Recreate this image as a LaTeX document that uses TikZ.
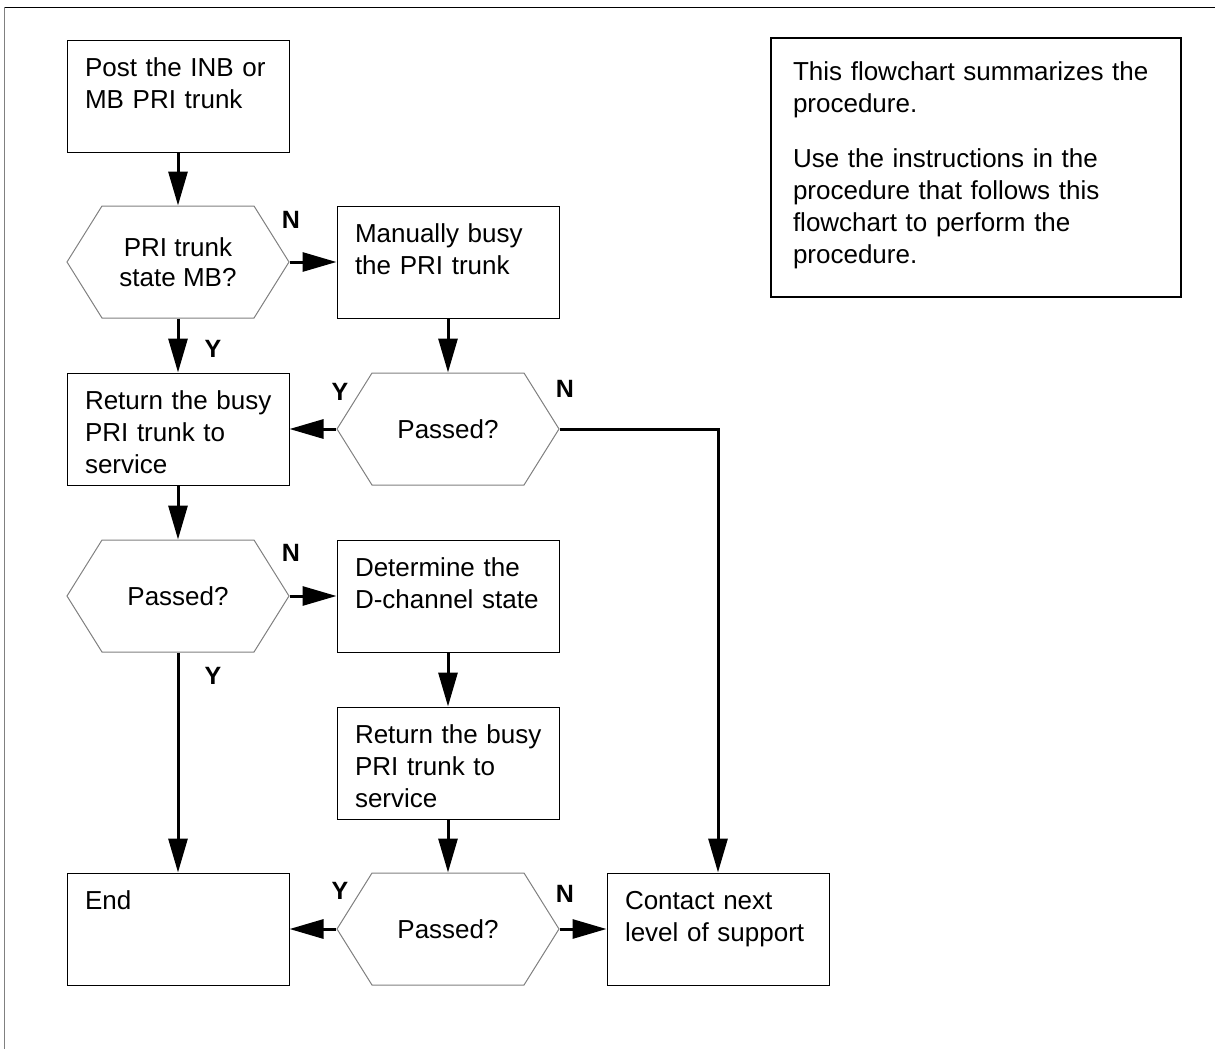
\documentclass[tikz,border=0pt]{standalone}
\usepackage{fontspec}
\setmainfont{Liberation Sans}
\usetikzlibrary{arrows.meta,shapes.symbols}

\begin{document}
\begin{tikzpicture}[x=0.5pt,y=-0.5pt,
  font=\fontsize{13}{16}\selectfont,
  box/.style={draw,line width=0.5pt,align=left,text width=100pt,inner xsep=5.5pt,inner ysep=8.5pt,
    text height=9.5pt,text depth=29.5pt,execute at begin node={\leftskip=3.5pt}},
  hex/.style={draw=gray,line width=0.5pt,shape=signal,signal to=west and east,signal pointer angle=116,
    minimum width=111pt,minimum height=56pt,align=center,inner sep=0pt,font=\fontsize{13}{15}\selectfont},
  flow/.style={line width=1.5pt,-{Triangle[length=17pt,width=9.5pt]}},
  yn/.style={font=\fontsize{12.5}{15}\selectfont\bfseries,inner sep=0pt}]
\useasboundingbox (0,0) rectangle (1215,1049);
% page rules
\draw[line width=0.5pt] (4,7) -- (1215,7);
\draw[gray,line width=0.5pt] (4,7) -- (4,1049);

% steps and checks
\node[box] (post) at (178,96) {Post the INB or\\MB PRI trunk};
\node[hex] (mbq) at (178,262) {PRI trunk\\state MB?};
\node[box] (busy) at (448,262) {Manually busy\\the PRI trunk};
\node[box] (rts1) at (178,429) {Return the busy\\PRI trunk to\\service};
\node[hex] (chk1) at (448,429) {Passed?};
\node[hex] (chk2) at (178,596) {Passed?};
\node[box] (dch) at (448,596) {Determine the\\D-channel state};
\node[box] (rts2) at (448,763) {Return the busy\\PRI trunk to\\service};
\node[hex] (chk3) at (448,929) {Passed?};
\node[box] (done) at (178,929) {End};
\node[box] (contact) at (718,929) {Contact next\\level of support};

% note in the corner
\node[box,line width=1pt,text width=190pt,inner xsep=7.5pt,inner ysep=11.5pt,text depth=97pt,
  execute at begin node={\leftskip=3.5pt}] (note) at (976,167.5)
  {This flowchart summarizes the\\procedure.\\[11.5pt]Use the instructions in the\\procedure that follows this\\flowchart to perform the\\procedure.};

% flow
\draw[flow] (post.south) -- (mbq.north);
\draw[flow] (mbq.east) -- (busy.west);
\draw[flow] (mbq.south) -- (rts1.north);
\draw[flow] (busy.south) -- (chk1.north);
\draw[flow] (chk1.west) -- (rts1.east);
\draw[flow] (chk1.east) -| (contact.north);
\draw[flow] (rts1.south) -- (chk2.north);
\draw[flow] (chk2.east) -- (dch.west);
\draw[flow] (chk2.south) -- (done.north);
\draw[flow] (dch.south) -- (rts2.north);
\draw[flow] (rts2.south) -- (chk3.north);
\draw[flow] (chk3.west) -- (done.east);
\draw[flow] (chk3.east) -- (contact.west);

% answers
\node[yn] (mbq-n) at (291,220) {N};
\node[yn] (mbq-y) at (213,349) {Y};
\node[yn] (chk1-y) at (340,392) {Y};
\node[yn] (chk1-n) at (565,389) {N};
\node[yn] (chk2-n) at (291,553) {N};
\node[yn] (chk2-y) at (213,676) {Y};
\node[yn] (chk3-y) at (340,891) {Y};
\node[yn] (chk3-n) at (565,894) {N};
\end{tikzpicture}
\end{document}
